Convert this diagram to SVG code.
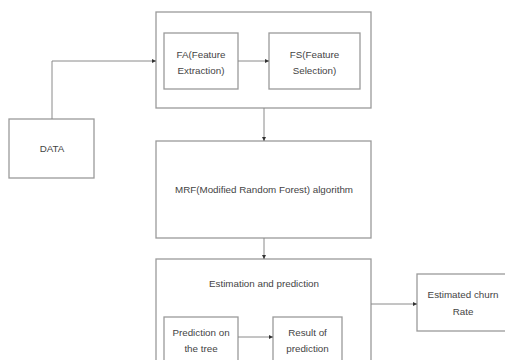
<svg xmlns="http://www.w3.org/2000/svg" width="505" height="360" viewBox="0 0 505 360">
<style>
.box{fill:#fff;stroke:#9a9a9a;stroke-width:1.3}
.t{font-family:"Liberation Sans",Arial,sans-serif;font-size:9.8px;fill:#444;text-anchor:middle}
.c{fill:none;stroke:#8a8a8a;stroke-width:1}
</style>
<defs>
<marker id="ah" viewBox="0 0 6 6" refX="6" refY="3" markerWidth="4" markerHeight="4" orient="auto" markerUnits="userSpaceOnUse">
<path d="M0,0 L6,3 L0,6 Z" fill="#333"/>
</marker>
</defs>
<rect width="505" height="360" fill="#fff"/>
<g id="top">
<rect class="box" x="156" y="12" width="215" height="96"/>
</g>
<g id="fa">
<rect class="box" x="164" y="33" width="74" height="56"/>
<text class="t" x="201" y="58">FA(Feature</text>
<text class="t" x="201" y="74">Extraction)</text>
</g>
<g id="fs">
<rect class="box" x="269" y="33" width="91" height="56"/>
<text class="t" x="314.5" y="58">FS(Feature</text>
<text class="t" x="314.5" y="74">Selection)</text>
</g>
<g id="data">
<rect class="box" x="9" y="119" width="85" height="59"/>
<text class="t" x="52" y="152">DATA</text>
</g>
<g id="mrf">
<rect class="box" x="156" y="141" width="215" height="97"/>
<text class="t" x="264" y="193">MRF(Modified Random Forest) algorithm</text>
</g>
<g id="est">
<rect class="box" x="156" y="259" width="215" height="110"/>
<text class="t" x="264" y="287">Estimation and prediction</text>
</g>
<g id="pred">
<rect class="box" x="164" y="317" width="74" height="60"/>
<text class="t" x="201" y="336">Prediction on</text>
<text class="t" x="201" y="352">the tree</text>
</g>
<g id="res">
<rect class="box" x="273" y="317" width="69" height="60"/>
<text class="t" x="307.5" y="336">Result of</text>
<text class="t" x="307.5" y="352">prediction</text>
</g>
<g id="churn">
<rect class="box" x="417" y="274" width="95" height="57"/>
<text class="t" x="463" y="298">Estimated churn</text>
<text class="t" x="463" y="315">Rate</text>
</g>
<g id="connectors">
<path class="c" d="M52,119 V61 H156" marker-end="url(#ah)"/>
<path class="c" d="M238,61 H269" marker-end="url(#ah)"/>
<path class="c" d="M264,108 V141" marker-end="url(#ah)"/>
<path class="c" d="M264,238 V259" marker-end="url(#ah)"/>
<path class="c" d="M238,337 H273" marker-end="url(#ah)"/>
<path class="c" d="M371,304 H417" marker-end="url(#ah)"/>
</g>
</svg>
